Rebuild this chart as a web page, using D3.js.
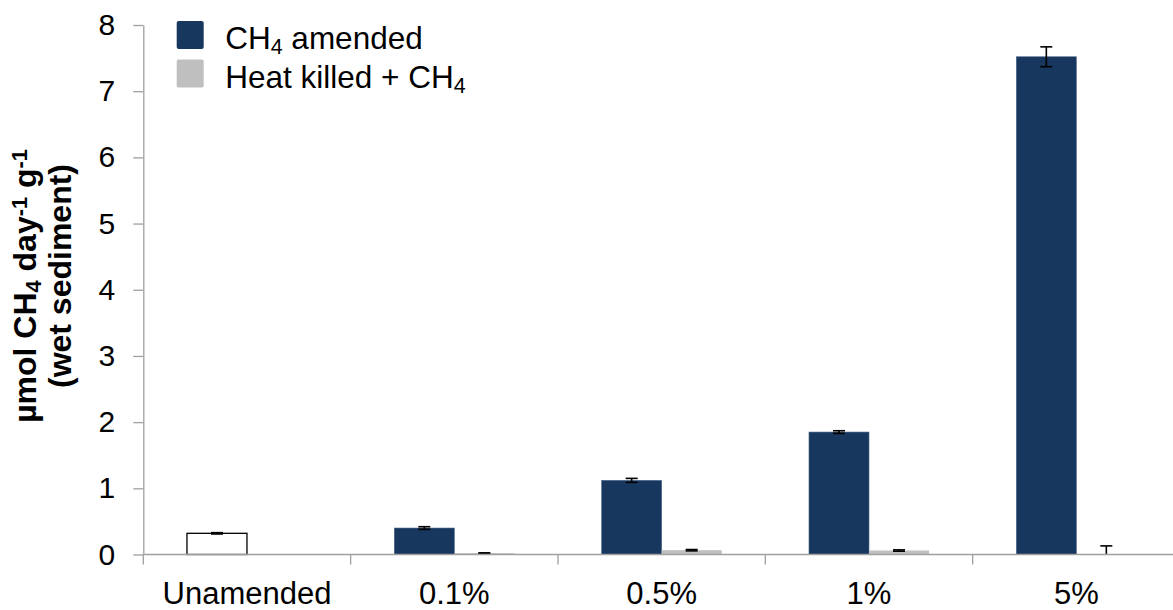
<!DOCTYPE html>
<html>
<head>
<meta charset="utf-8">
<script src="https://cdn.jsdelivr.net/npm/d3@7"></script>
<style>
  html, body { margin: 0; padding: 0; background: #fff; }
  svg { display: block; font-family: "Liberation Sans", Arial, sans-serif; }
</style>
</head>
<body>
<svg id="chart" width="1173" height="610"></svg>
<script>
// Methane oxidation rates by amendment level
const categories = ["Unamended", "0.1%", "0.5%", "1%", "5%"];
const ch4Amended = [0.32, 0.40, 1.12, 1.85, 7.52];
const ch4AmendedErr = [0.01, 0.02, 0.03, 0.02, 0.15];
const heatKilled = [null, 0.02, 0.065, 0.06, 0.0];
const heatKilledErr = [null, 0.005, 0.01, 0.01, 0.13];
const yTicks = [0, 1, 2, 3, 4, 5, 6, 7, 8];

const NAVY = "#17375e";
const GREY = "#bfbfbf";
const AXIS = "#a0a0a0";

const svg = d3.select("#chart");
const plotLeft = 143.3, plotRight = 1180, plotTop = 25, plotBottom = 554.5;

const y = d3.scaleLinear().domain([0, 8]).range([plotBottom, plotTop]);

// category bands, centred bar pair of 120px per category
const pad = 1 - 120 / ((plotRight - plotLeft) / categories.length);
const x0 = d3.scaleBand().domain(categories).range([plotLeft, plotRight])
  .paddingInner(pad).paddingOuter(pad / 2);
const x1 = d3.scaleBand().domain(["amended", "killed"]).range([0, x0.bandwidth()]);

// rows joined per category
const rows = categories.map((c, i) => ({
  cat: c, i,
  a: ch4Amended[i], aErr: ch4AmendedErr[i],
  k: heatKilled[i], kErr: heatKilledErr[i]
}));

const plot = svg.append("g");

// CH4 amended bars (the unamended control is drawn open)
plot.selectAll("rect.amended").data(rows).join("rect")
  .attr("class", "amended")
  .attr("x", d => x0(d.cat) + x1("amended"))
  .attr("width", x1.bandwidth())
  .attr("y", d => y(d.a))
  .attr("height", d => y(0) - y(d.a))
  .attr("fill", d => d.i === 0 ? "#ffffff" : NAVY)
  .attr("stroke", d => d.i === 0 ? "#000" : "#4a6488")
  .attr("stroke-width", d => d.i === 0 ? 1.3 : 0.6);

// heat-killed bars
const killedRows = rows.filter(d => d.k !== null);
plot.selectAll("rect.killed").data(killedRows).join("rect")
  .attr("class", "killed")
  .attr("x", d => x0(d.cat) + x1("killed"))
  .attr("width", x1.bandwidth())
  .attr("y", d => y(d.k))
  .attr("height", d => y(0) - y(d.k))
  .attr("fill", GREY);

// error bars
const errs = [];
rows.forEach(d => {
  errs.push({ cx: x0(d.cat) + x1("amended") + x1.bandwidth() / 2, v: d.a, e: d.aErr });
  if (d.k !== null) errs.push({ cx: x0(d.cat) + x1("killed") + x1.bandwidth() / 2, v: d.k, e: d.kErr });
});
const capW = 6;
const eg = plot.selectAll("g.err").data(errs).join("g").attr("class", "err")
  .attr("stroke", "#000").attr("stroke-width", 1.6).attr("fill", "none");
eg.append("line")
  .attr("x1", d => d.cx).attr("x2", d => d.cx)
  .attr("y1", d => y(Math.max(0, d.v - d.e))).attr("y2", d => y(d.v + d.e));
eg.append("line")
  .attr("x1", d => d.cx - capW).attr("x2", d => d.cx + capW)
  .attr("y1", d => y(d.v + d.e)).attr("y2", d => y(d.v + d.e));
eg.filter(d => d.v - d.e > 0).append("line")
  .attr("x1", d => d.cx - capW).attr("x2", d => d.cx + capW)
  .attr("y1", d => y(d.v - d.e)).attr("y2", d => y(d.v - d.e));

// y axis
const yAxis = svg.append("g")
  .attr("transform", `translate(${plotLeft},0)`)
  .call(d3.axisLeft(y).tickValues(yTicks).tickFormat(d3.format("d"))
    .tickSize(10).tickSizeOuter(0).tickPadding(18));
yAxis.select(".domain").attr("stroke", AXIS).attr("stroke-width", 1.3);
yAxis.selectAll(".tick line").attr("stroke", AXIS).attr("stroke-width", 1.3);
yAxis.selectAll(".tick text").attr("fill", "#000")
  .style("font-size", "30px").style("font-family", "'Liberation Sans', Arial, sans-serif");

// x axis: baseline, boundary ticks, centred labels
const xg = svg.append("g");
xg.append("line")
  .attr("x1", plotLeft).attr("x2", plotRight)
  .attr("y1", y(0)).attr("y2", y(0))
  .attr("stroke", AXIS).attr("stroke-width", 1.5);
const step = x0.step();
const boundaries = categories.map(c => x0(c) - (step - x0.bandwidth()) / 2);
xg.selectAll("line.bt").data(boundaries).join("line")
  .attr("class", "bt")
  .attr("x1", d => d).attr("x2", d => d)
  .attr("y1", y(0)).attr("y2", y(0) + 10)
  .attr("stroke", AXIS).attr("stroke-width", 1.3);
xg.selectAll("text").data(categories).join("text")
  .attr("x", c => x0(c) + x0.bandwidth() / 2)
  .attr("y", 604)
  .attr("text-anchor", "middle")
  .style("font-size", "31px")
  .attr("fill", "#000")
  .text(c => c);

// helper for rich text runs (sub/superscripts)
function richText(sel, parts, size) {
  parts.forEach(([t, kind]) => {
    const ts = sel.append("tspan").text(t);
    if (kind === "sub") ts.style("font-size", (size * 0.68) + "px").attr("baseline-shift", "-24%");
    else if (kind === "sup") ts.style("font-size", (size * 0.68) + "px").attr("baseline-shift", "42%");
  });
}

// y axis title
const yTitle = svg.append("g").attr("transform", "translate(0,284) rotate(-90)")
  .style("font-weight", "bold").style("font-size", "32px").attr("fill", "#000");
richText(yTitle.append("text").attr("x", -2).attr("y", 36).attr("text-anchor", "middle"),
  [["µmol CH", ""], ["4", "sub"], [" day", ""], ["-1", "sup"], ["  g", ""], ["-1", "sup"]], 32);
richText(yTitle.append("text").attr("x", 8).attr("y", 71).attr("text-anchor", "middle"),
  [["(wet sediment)", ""]], 32);

// legend
const legendItems = [
  { color: NAVY, parts: [["CH", ""], ["4", "sub"], [" amended", ""]] },
  { color: GREY, parts: [["Heat killed + CH", ""], ["4", "sub"]] }
];
const lg = svg.append("g");
legendItems.forEach((it, i) => {
  const g = lg.append("g").attr("transform", `translate(176.7,${21 + i * 38.5})`);
  g.append("rect").attr("width", 27).attr("height", 28).attr("rx", 2).attr("fill", it.color);
  const t = g.append("text").attr("x", 48.5).attr("y", 28).style("font-size", "31.5px").attr("fill", "#000");
  richText(t, it.parts, 31.5);
});
</script>
</body>
</html>
